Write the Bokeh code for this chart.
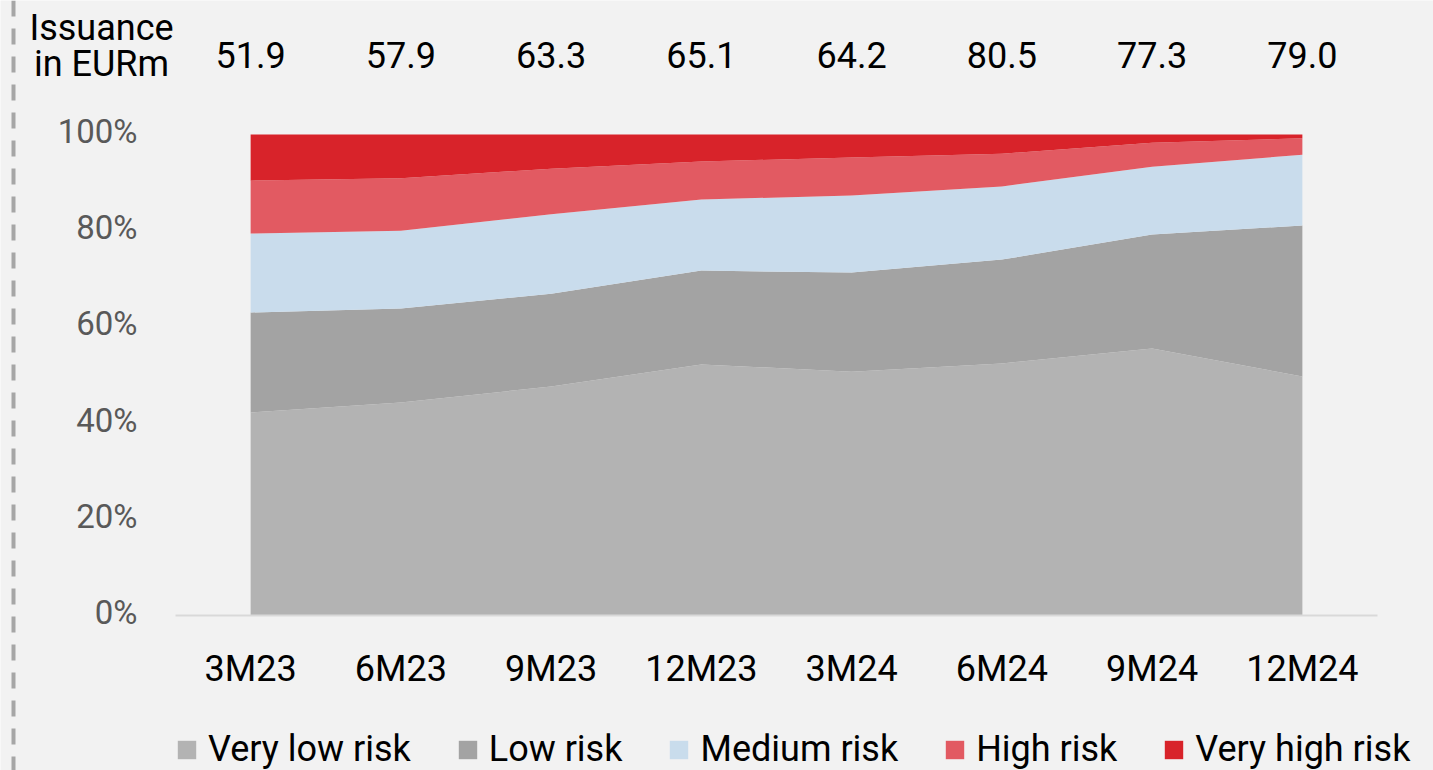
from bokeh.plotting import figure
from bokeh.models import ColumnDataSource, Legend, LegendItem, Range1d, Span
from bokeh.core.properties import value
from bokeh.embed import file_html
from bokeh.resources import INLINE

# ---- data ----
categories = ["3M23", "6M23", "9M23", "12M23", "3M24", "6M24", "9M24", "12M24"]
issuance = [51.9, 57.9, 63.3, 65.1, 64.2, 80.5, 77.3, 79.0]
very_low = [42.2, 44.3, 47.6, 52.2, 50.7, 52.4, 55.5, 49.7]
low = [20.8, 19.5, 19.3, 19.5, 20.6, 21.6, 23.7, 31.4]
medium = [16.4, 16.2, 16.5, 14.8, 16.0, 15.2, 14.1, 14.7]
high = [11.0, 10.9, 9.5, 7.9, 7.9, 6.8, 5.0, 3.4]
very_high = [9.6, 9.1, 7.1, 5.6, 4.8, 4.0, 1.7, 0.8]
series_names = ["Very low risk", "Low risk", "Medium risk", "High risk", "Very high risk"]
colors = ["#b3b3b3", "#a3a3a3", "#c9dcec", "#e25a62", "#d8232a"]
y_ticks = [0, 20, 40, 60, 80, 100]
y_tick_labels = [f"{t}%" for t in y_ticks]
issuance_title = ["Issuance", "in EURm"]

BG = "#f2f2f2"
FONT = value("Roboto")
W, H = 1433, 770

# ---- layout geometry (pixels) ----
PLOT_L, PLOT_R, PLOT_T, PLOT_B = 175, 1377, 134, 615
n = len(categories)
xpx = (PLOT_R - PLOT_L) / n          # pixels per category
ypx = (PLOT_B - PLOT_T) / 100.0      # pixels per percent

x0 = -0.5 - PLOT_L / xpx
x1 = -0.5 + (W - PLOT_L) / xpx
y0 = -(H - PLOT_B) / ypx
y1 = 100 + PLOT_T / ypx

idx = list(range(n))
source = ColumnDataSource(dict(x=idx, vl=very_low, lo=low, me=medium, hi=high, vh=very_high))
stackers = ["vl", "lo", "me", "hi", "vh"]

p = figure(width=W, height=H, x_range=Range1d(x0, x1), y_range=Range1d(y0, y1),
           output_backend="svg", toolbar_location=None, x_axis_type=None, y_axis_type=None,
           min_border=0, background_fill_color=BG, border_fill_color=BG, outline_line_color=None)
p.xgrid.visible = False
p.ygrid.visible = False

rs = p.varea_stack(stackers, x="x", color=colors, source=source)

# x axis line
p.segment(x0=[-0.5], y0=[0], x1=[n - 0.5], y1=[0], line_color="#d9d9d9", line_width=2)

# y tick labels
p.text(x=[-0.5] * len(y_ticks), y=y_ticks, text=y_tick_labels, x_offset=-38, y_offset=-3,
       text_align="right", text_baseline="alphabetic", text_font=FONT,
       text_font_size="33px", text_color="#595959")

# x tick labels
p.text(x=idx, y=[0] * n, text=categories, y_offset=53,
       text_align="center", text_baseline="alphabetic", text_font=FONT,
       text_font_size="36px", text_color="#000000")

# issuance values on top
p.text(x=idx, y=[100] * n, text=[f"{v:.1f}" for v in issuance], y_offset=-80,
       text_align="center", text_baseline="alphabetic", text_font=FONT,
       text_font_size="36px", text_color="#000000")

# "Issuance in EURm"
tx = -0.5 + (101 - PLOT_L) / xpx
p.text(x=[tx, tx], y=[100, 100], text=issuance_title, y_offset=[-107, -71],
       text_align="center", text_baseline="alphabetic", text_font=FONT,
       text_font_size="36px", text_color="#000000")

# left dashed border
p.add_layout(Span(location=-0.5 + (13 - PLOT_L) / xpx, dimension="height",
                  line_color="#a6a6a6", line_width=4, line_dash="16 12"))

legend = Legend(items=[LegendItem(label=nm, renderers=[r]) for nm, r in zip(series_names, rs)],
                orientation="horizontal", location=(PLOT_L, 0), padding=0, margin=0,
                spacing=45, glyph_width=23, glyph_height=23, label_standoff=10,
                label_text_font="Roboto", label_text_font_size="36px",
                label_text_color="#000000",
                background_fill_alpha=0, border_line_color=None)
p.add_layout(legend, "center")

open("out.html", "w").write(file_html(p, INLINE))
